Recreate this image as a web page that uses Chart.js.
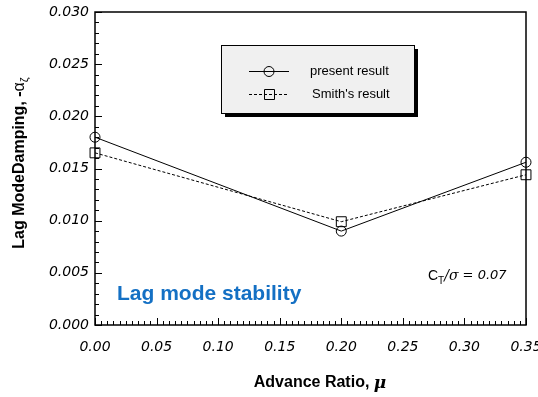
<!DOCTYPE html>
<html>
<head>
<meta charset="utf-8">
<script src="https://cdn.jsdelivr.net/npm/chart.js@4"></script>
<style>
  html, body { margin: 0; padding: 0; background: #fff; }
  #wrap { width: 538px; height: 397px; }
</style>
</head>
<body>
<div id="wrap"><canvas id="chartLag"></canvas></div>
<script>
    // dados
    const advanceRatio = [0.00, 0.20, 0.35];
    const presentResult = [0.0180, 0.0090, 0.0156];
    const smithResult = [0.0165, 0.0099, 0.0144];
    const xTickLabels = ['0.00', '0.05', '0.10', '0.15', '0.20', '0.25', '0.30', '0.35'];
    const yTickLabels = ['0.000', '0.005', '0.010', '0.015', '0.020', '0.025', '0.030'];
    const seriesNames = ['present result', "Smith's result"];

    const tickFont = { family: 'DejaVu Sans', size: 14, style: 'italic' };

    function pontos(valores) {
        return advanceRatio.map((x, i) => ({ x, y: valores[i] }));
    }

    const molduraPlugin = {
        id: 'moldura',
        afterDraw(chart) {
            const { ctx, chartArea: a, scales } = chart;
            ctx.save();

            // moldura
            ctx.strokeStyle = '#000';
            ctx.lineWidth = 1.5;
            ctx.strokeRect(a.left, a.top, a.right - a.left, a.bottom - a.top);

            // ticks para dentro
            ctx.lineWidth = 1;
            ctx.beginPath();
            for (let v = 0; v <= 35 + 1e-9; v += 0.5) {
                const px = Math.round(scales.x.getPixelForValue(v / 100)) + 0.5;
                const major = Math.abs(v / 5 - Math.round(v / 5)) < 1e-6;
                ctx.moveTo(px, a.bottom);
                ctx.lineTo(px, a.bottom - (major ? 7 : 4));
            }
            for (let v = 0; v <= 30 + 1e-9; v += 1) {
                const py = Math.round(scales.y.getPixelForValue(v / 1000)) + 0.5;
                const major = v % 5 === 0;
                ctx.moveTo(a.left, py);
                ctx.lineTo(a.left + (major ? 7 : 4), py);
            }
            ctx.stroke();

            // legenda com sombra
            const lx = 221, ly = 45, lw = 193, lh = 68;
            ctx.fillStyle = '#000';
            ctx.fillRect(lx + 4, ly + 4, lw, lh);
            ctx.fillStyle = '#f0f0f0';
            ctx.fillRect(lx, ly, lw, lh);
            ctx.strokeStyle = '#000';
            ctx.lineWidth = 1;
            ctx.strokeRect(lx + 0.5, ly + 0.5, lw, lh);

            ctx.font = '13px "Liberation Sans"';
            ctx.textBaseline = 'middle';
            ctx.fillStyle = '#000';
            const linhas = [71, 94];
            linhas.forEach((yy, i) => {
                ctx.beginPath();
                ctx.setLineDash(i === 0 ? [] : [3, 2]);
                ctx.moveTo(249, yy + 0.5);
                ctx.lineTo(289, yy + 0.5);
                ctx.stroke();
                ctx.setLineDash([]);
                ctx.beginPath();
                if (i === 0) {
                    ctx.arc(269, yy + 0.5, 5, 0, Math.PI * 2);
                } else {
                    ctx.rect(264.5, yy - 4.5, 10, 10);
                }
                ctx.stroke();
                ctx.textAlign = 'left';
                ctx.fillText(seriesNames[i], i === 0 ? 310 : 312, yy);
            });

            // anotacoes
            ctx.fillStyle = '#1470c4';
            ctx.font = 'bold 21px "Liberation Sans"';
            ctx.textAlign = 'left';
            ctx.fillText('Lag mode stability', 117, 294);

            ctx.fillStyle = '#000';
            ctx.font = '14px "Liberation Sans"';
            let x = 428;
            ctx.fillText('C', x, 276);
            x += ctx.measureText('C').width;
            ctx.font = '10px "Liberation Sans"';
            ctx.fillText('T', x, 281);
            x += ctx.measureText('T').width;
            ctx.font = 'italic 14px "DejaVu Serif"';
            ctx.fillText('/\u03c3', x, 276);
            x += ctx.measureText('/\u03c3').width;
            ctx.font = 'italic 13px "DejaVu Sans"';
            ctx.fillText(' = 0.07', x, 276);

            // titulos dos eixos
            ctx.fillStyle = '#000';
            const tx = 'Advance Ratio, ';
            ctx.font = 'bold 16px "Liberation Sans"';
            const w1 = ctx.measureText(tx).width;
            ctx.font = 'italic bold 17px "DejaVu Serif"';
            const w2 = ctx.measureText('\u03bc').width;
            let sx = 320 - (w1 + w2) / 2;
            ctx.font = 'bold 16px "Liberation Sans"';
            ctx.fillText(tx, sx, 383);
            ctx.font = 'italic bold 17px "DejaVu Serif"';
            ctx.fillText('\u03bc', sx + w1, 384);

            ctx.translate(20, 163);
            ctx.rotate(-Math.PI / 2);
            ctx.font = 'bold 16px "Liberation Sans"';
            const ty = 'Lag ModeDamping, -';
            const wa = ctx.measureText(ty).width;
            ctx.font = '16px "Liberation Sans"';
            const wb = ctx.measureText('\u03b1').width;
            ctx.font = '11px "Liberation Sans"';
            const wc = ctx.measureText('\u03b6').width;
            let ox = -(wa + wb + wc) / 2;
            ctx.font = 'bold 16px "Liberation Sans"';
            ctx.fillText(ty, ox, 0);
            ctx.font = '16px "Liberation Sans"';
            ctx.fillText('\u03b1', ox + wa, 0);
            ctx.font = '11px "Liberation Sans"';
            ctx.fillText('\u03b6', ox + wa + wb, 5);

            ctx.restore();
        }
    };

    document.addEventListener('DOMContentLoaded', () => {
        new Chart(document.getElementById('chartLag'), {
            type: 'line',
            data: {
                datasets: [{
                    label: seriesNames[0],
                    data: pontos(presentResult),
                    borderColor: '#000',
                    borderWidth: 1,
                    pointStyle: 'circle',
                    pointRadius: 5,
                    pointBackgroundColor: 'rgba(0,0,0,0)',
                    pointBorderColor: '#000',
                    pointBorderWidth: 1,
                    tension: 0,
                    clip: false
                }, {
                    label: seriesNames[1],
                    data: pontos(smithResult),
                    borderColor: '#000',
                    borderWidth: 1,
                    borderDash: [3, 2],
                    pointStyle: 'rect',
                    pointRadius: 7,
                    pointBackgroundColor: 'rgba(0,0,0,0)',
                    pointBorderColor: '#000',
                    pointBorderWidth: 1,
                    tension: 0,
                    clip: false
                }]
            },
            options: {
                responsive: true,
                maintainAspectRatio: false,
                animation: false,
                layout: { padding: { left: 0, right: 12, top: 12, bottom: 0 } },
                plugins: {
                    legend: { display: false },
                    tooltip: { enabled: false }
                },
                scales: {
                    x: {
                        type: 'linear',
                        min: 0,
                        max: 0.35,
                        grid: { display: false, drawTicks: false },
                        border: { display: false },
                        ticks: {
                            stepSize: 0.05,
                            autoSkip: false,
                            maxRotation: 0,
                            padding: 14,
                            color: '#000',
                            font: tickFont,
                            callback: (v, i) => xTickLabels[i]
                        },
                        afterFit(scale) {
                            scale.height = 72;
                            scale.paddingLeft = 0;
                            scale.paddingRight = 0;
                        }
                    },
                    y: {
                        min: 0,
                        max: 0.03,
                        grid: { display: false, drawTicks: false },
                        border: { display: false },
                        ticks: {
                            stepSize: 0.005,
                            padding: 6,
                            color: '#000',
                            font: tickFont,
                            callback: (v, i) => yTickLabels[i]
                        },
                        afterFit(scale) {
                            scale.width = 95;
                            scale.paddingTop = 0;
                            scale.paddingBottom = 0;
                        }
                    }
                }
            },
            plugins: [molduraPlugin]
        });
    });
</script>
</body>
</html>
